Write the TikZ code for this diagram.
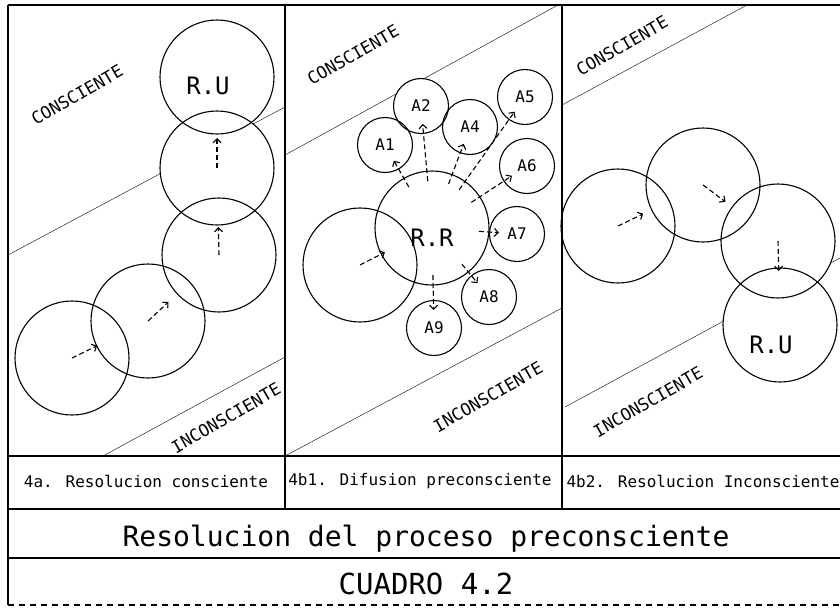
\documentclass[tikz,border=0pt]{standalone}
\usepackage{fontspec}
\newfontfamily\plotfont{DejaVu Sans Mono}
\usetikzlibrary{arrows.meta,calc,backgrounds}

\begin{document}
\begin{tikzpicture}[x=1pt,y=-1pt,line width=1.1pt,
        blob/.style={circle,draw,inner sep=0pt,minimum size=114pt},
        atom/.style={circle,draw,inner sep=0pt,minimum size=55pt,
            font=\plotfont\fontsize{16}{16}\selectfont},
        tag/.style={font=\plotfont\fontsize{24}{24}\selectfont},
        flow/.style={dash pattern=on 5pt off 3pt,
            -{Straight Barb[length=4pt,width=8pt]}},
        zone/.style={rotate=30,inner sep=1pt,font=\plotfont\fontsize{17}{17}\selectfont},
        caption/.style={font=\plotfont\fontsize{16}{16}\selectfont}]
    \useasboundingbox (0,0) rectangle (840,608);

    % frame
    \draw (8,5) -- (840,5);
    \draw (8,5) -- (8,605);
    \draw (8,456) -- (840,456);
    \draw (8,509) -- (840,509);
    \draw (8,558) -- (840,558);
    \draw[dash pattern=on 6pt off 5pt] (8,605) -- (840,605);
    \draw (285,5) -- (285,509);
    \draw (562,5) -- (562,509);

    % 4a
    \node[blob] (u1) at (217,77) {};
    \node[blob] (u2) at (217,168) {};
    \node[blob] (u3) at (219,255) {};
    \node[blob] (u4) at (148,321) {};
    \node[blob] (u5) at (72,358) {};
    \node[tag] (ru1) at (208,86) {R.U};
    \draw[flow] (u5.center) -- ($(u5.center)!28pt!(u4.center)$);
    \draw[flow] (u4.center) -- ($(u4.center)!28pt!(u3.center)$);
    \draw[flow] (u3.center) -- ($(u3.center)!28pt!(u2.center)$);
    \draw[flow] (u2.center) -- ($(u2.center)!30pt!(u1.center)$);
    \node[zone] (up1) at (77,95) {CONSCIENTE};
    \node[zone] (dn1) at (226,418) {INCONSCIENTE};

    % 4b1
    \node[blob] (d0) at (360,265) {};
    \node[blob] (rr) at (432,228) {};
    \node[tag] (rrl) at (432,238) {R.R};
    \node[atom] (a1) at (385,145) {A1};
    \node[atom] (a2) at (421,106) {A2};
    \node[atom] (a4) at (470,127) {A4};
    \node[atom] (a5) at (525,97) {A5};
    \node[atom] (a6) at (527,166) {A6};
    \node[atom] (a7) at (517,234) {A7};
    \node[atom] (a8) at (489,297) {A8};
    \node[atom] (a9) at (434,328) {A9};
    \draw[flow] (d0.center) -- ($(d0.center)!28pt!(rr.center)$);
    \foreach \a in {a1,a2,a4,a5,a6,a7,a8,a9}
        \draw[flow] ($(rr.center)!47pt!(\a.center)$) -- ($(\a.center)!18pt!(rr.center)$);
    \node[zone] (up2) at (353,55) {CONSCIENTE};
    \node[zone] (dn2) at (488,397) {INCONSCIENTE};

    % 4b2
    \node[blob] (i1) at (618,226) {};
    \node[blob] (i2) at (703,185) {};
    \node[blob] (i3) at (778,241) {};
    \node[blob] (i4) at (780,325) {};
    \node[tag] (ru2) at (771,345) {R.U};
    \draw[flow] (i1.center) -- ($(i1.center)!28pt!(i2.center)$);
    \draw[flow] (i2.center) -- ($(i2.center)!28pt!(i3.center)$);
    \draw[flow] (i3.center) -- ($(i3.center)!30pt!(i4.center)$);
    \node[zone] (up3) at (622,46) {CONSCIENTE};
    \node[zone] (dn3) at (648,402) {INCONSCIENTE};

    % boundaries, hidden behind the circles
    \begin{scope}[on background layer]
        \draw (8,255) -- (285,107);
        \draw (103,456) -- (285,357);
        \draw (285,155) -- (558,5);
        \draw (285,456) -- (562,308);
        \draw (562,105) -- (747,5);
        \draw (565,407) -- (840,258);
        \foreach \n in {u1,u2,u3,u4,u5,d0,rr,i1,i2,i3,i4}
            \fill[white] (\n.center) circle[radius=57pt];
        \foreach \n in {a1,a2,a4,a5,a6,a7,a8,a9}
            \fill[white] (\n.center) circle[radius=27.5pt];
    \end{scope}

    % captions
    \node[caption] (t1) at (146,481) {4a. Resolucion consciente};
    \node[caption] (t2) at (420,481) {4b1. Difusion preconsciente};
    \node[caption] (t3) at (703,481) {4b2. Resolucion Inconsciente};
    \node[font=\plotfont\fontsize{28}{28}\selectfont] (title) at (426,539)
        {Resolucion del proceso preconsciente};
    \node[font=\plotfont\fontsize{29}{29}\selectfont] (num) at (426,584) {CUADRO 4.2};
\end{tikzpicture}
\end{document}
